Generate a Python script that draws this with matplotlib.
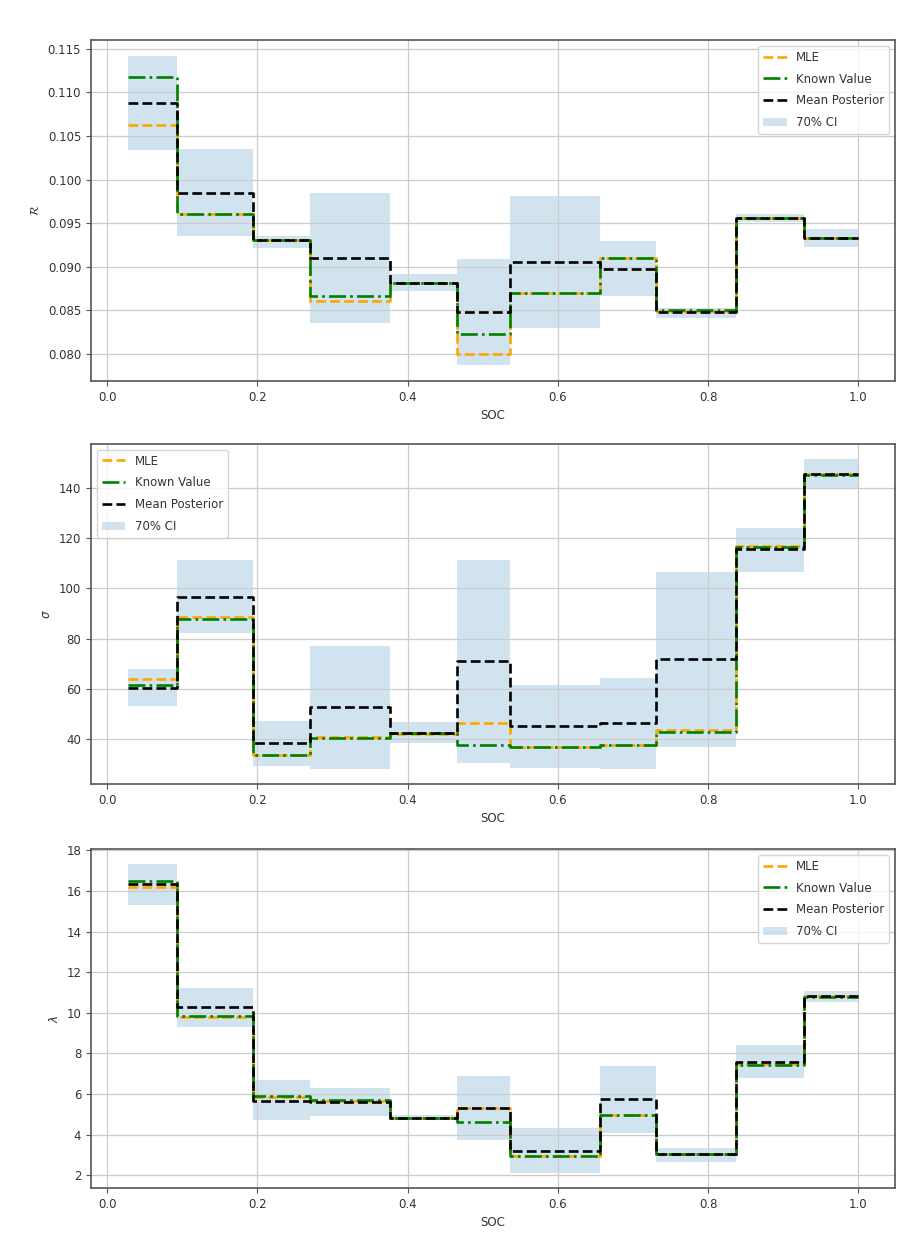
import numpy as np
import matplotlib
matplotlib.use("Agg")
import matplotlib.pyplot as plt
from matplotlib.lines import Line2D
from matplotlib.patches import Patch

# Segment boundaries in SOC
soc_edges = [0.027, 0.093, 0.194, 0.270, 0.376, 0.466, 0.536, 0.656, 0.731, 0.837, 0.927, 1.0]

# Resistance R
r_mle   = [0.1063, 0.0960, 0.0931, 0.0861, 0.0881, 0.0800, 0.0870, 0.0910, 0.0849, 0.0956, 0.0933]
r_known = [0.1117, 0.0960, 0.0931, 0.0867, 0.0881, 0.0823, 0.0870, 0.0910, 0.0850, 0.0956, 0.0933]
r_mean  = [0.1088, 0.0985, 0.0931, 0.0910, 0.0881, 0.0848, 0.0905, 0.0898, 0.0848, 0.0956, 0.0933]
r_lo    = [0.1034, 0.0935, 0.0922, 0.0836, 0.0872, 0.0787, 0.0830, 0.0866, 0.0841, 0.0951, 0.0923]
r_hi    = [0.1142, 0.1035, 0.0935, 0.0985, 0.0892, 0.0909, 0.0981, 0.0929, 0.0853, 0.0961, 0.0943]

# sigma
s_mle   = [63.8, 88.4, 33.6, 40.9, 42.0, 46.5, 37.0, 37.6, 43.6, 116.8, 145.3]
s_known = [61.5, 87.8, 33.6, 40.5, 42.3, 37.6, 36.9, 37.6, 42.9, 116.3, 145.1]
s_mean  = [60.4, 96.7, 38.3, 52.9, 42.5, 71.2, 45.2, 46.5, 71.7, 115.5, 145.5]
s_lo    = [53.3, 82.1, 29.3, 28.3, 38.3, 30.6, 28.6, 28.3, 36.9, 106.6, 139.8]
s_hi    = [68.1, 111.3, 47.2, 77.2, 46.9, 111.3, 61.5, 64.5, 106.6, 124.1, 151.3]

# lambda
l_mle   = [16.21, 9.81, 5.87, 5.66, 4.84, 5.30, 2.95, 4.95, 3.03, 7.50, 10.81]
l_known = [16.49, 9.85, 5.91, 5.69, 4.84, 4.63, 2.95, 4.95, 3.03, 7.43, 10.80]
l_mean  = [16.33, 10.30, 5.66, 5.63, 4.84, 5.30, 3.20, 5.74, 3.03, 7.60, 10.83]
l_lo    = [15.33, 9.30, 4.71, 4.92, 4.71, 3.72, 2.13, 4.07, 2.67, 6.78, 10.55]
l_hi    = [17.31, 11.24, 6.68, 6.28, 4.95, 6.87, 4.31, 7.37, 3.33, 8.42, 11.08]

panels = [
    (r"$\mathcal{R}$", r_mle, r_known, r_mean, r_lo, r_hi, "upper right"),
    (r"$\sigma$", s_mle, s_known, s_mean, s_lo, s_hi, "upper left"),
    (r"$\lambda$", l_mle, l_known, l_mean, l_lo, l_hi, "upper right"),
]

plt.rcParams['font.size'] = 8.5
plt.rcParams['text.color'] = '#333333'
plt.rcParams['axes.labelcolor'] = '#333333'
plt.rcParams['xtick.labelcolor'] = '#333333'
plt.rcParams['ytick.labelcolor'] = '#333333'
plt.rcParams['xtick.color'] = '#555555'
plt.rcParams['ytick.color'] = '#555555'

fig = plt.figure(figsize=(9.16, 12.53), dpi=100)
boxes = [
    (0.0993, 0.696, 0.8777, 0.272),
    (0.0993, 0.3743, 0.8777, 0.2714),
    (0.0993, 0.0519, 0.8777, 0.2705),
]

edges = np.array(soc_edges)

def ext(v):
    v = np.asarray(v, dtype=float)
    return np.append(v, v[-1])

for box, (ylab, mle, known, mean, lo, hi, loc) in zip(boxes, panels):
    ax = fig.add_axes(box)
    ax.fill_between(edges, ext(lo), ext(hi), step='post', color='C0', alpha=0.2,
                    linewidth=0, zorder=1)
    ax.step(edges, ext(mle), where='post', color='orange', linestyle='--', linewidth=1.9, zorder=2)
    ax.step(edges, ext(known), where='post', color='green', linestyle='-.', linewidth=1.9, zorder=3)
    ax.step(edges, ext(mean), where='post', color='black', linestyle='--', linewidth=1.9, zorder=4)
    ax.grid(True, color='#cccccc', linewidth=0.9)
    for sp in ax.spines.values():
        sp.set_color('#555555')
        sp.set_linewidth(1.2)
    ax.set_xlabel("SOC")
    ax.set_ylabel(ylab)
    handles = [
        Line2D([], [], color='orange', linestyle='--', linewidth=1.9),
        Line2D([], [], color='green', linestyle='-.', linewidth=1.9),
        Line2D([], [], color='black', linestyle='--', linewidth=1.9),
        Patch(facecolor='C0', alpha=0.2, linewidth=0),
    ]
    ax.legend(handles, ["MLE", "Known Value", "Mean Posterior", "70% CI"], loc=loc,
              labelspacing=0.75)

fig.savefig("out.png", dpi=100)
